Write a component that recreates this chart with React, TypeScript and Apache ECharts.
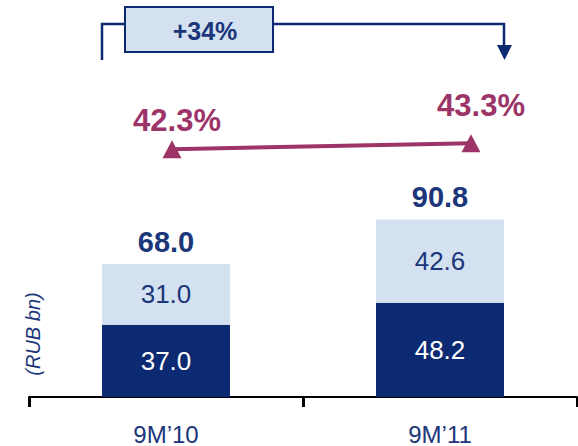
import React, { useEffect, useRef } from "react";
import * as echarts from "echarts";

const categories = ["9M’10", "9M’11"];
const darkValues = [37.0, 48.2];
const lightValues = [31.0, 42.6];
const totals = [68.0, 90.8];
const marginValues = [42.3, 43.3];
const growthLabel = "+34%";
const unitLabel = "(RUB bn)";

const NAVY = "#0c2a72";
const NAVY_TEXT = "#1b3679";
const LIGHT = "#d4e1f1";
const PURPLE = "#9c3468";
const FONT = "'Liberation Sans', Arial, sans-serif";

export default function App() {
  const ref = useRef<HTMLDivElement>(null);
  useEffect(() => {
    if (!ref.current) return;
    const chart = echarts.init(ref.current, undefined, { renderer: "svg" });
    chart.setOption({
      animation: false,
      backgroundColor: "#ffffff",
      textStyle: { fontFamily: FONT },
      grid: [
        { left: 29, right: 1, top: 6, bottom: 48 },
        { left: 172, right: 107, top: 103, bottom: 247 },
      ],
      xAxis: [
        {
          type: "category",
          gridIndex: 0,
          data: categories,
          boundaryGap: true,
          axisLine: { show: true, lineStyle: { color: "#000000", width: 2 } },
          axisTick: { show: true, length: 10, interval: 0, lineStyle: { color: "#000000", width: 3 } },
          axisLabel: { color: NAVY_TEXT, fontSize: 24, fontFamily: FONT, margin: 25 },
        },
        {
          type: "category",
          gridIndex: 1,
          data: categories,
          boundaryGap: false,
          show: false,
        },
      ],
      yAxis: [
        { type: "value", gridIndex: 0, min: 0, max: 200, show: false },
        { type: "value", gridIndex: 1, min: 34, max: 50, show: false },
      ],
      series: [
        {
          type: "bar",
          name: "dark",
          stack: "s",
          xAxisIndex: 0,
          yAxisIndex: 0,
          barWidth: 128,
          data: darkValues,
          itemStyle: { color: NAVY },
          label: {
            show: true,
            position: "inside",
            color: "#ffffff",
            fontSize: 26,
            fontFamily: FONT,
            formatter: (p: any) => Number(p.value).toFixed(1),
          },
        },
        {
          type: "bar",
          name: "light",
          stack: "s",
          xAxisIndex: 0,
          yAxisIndex: 0,
          barWidth: 128,
          data: lightValues,
          itemStyle: { color: LIGHT },
          label: {
            show: true,
            position: "inside",
            color: NAVY_TEXT,
            fontSize: 26,
            fontFamily: FONT,
            formatter: (p: any) => Number(p.value).toFixed(1),
          },
        },
        {
          type: "bar",
          name: "total",
          stack: "s",
          xAxisIndex: 0,
          yAxisIndex: 0,
          barWidth: 128,
          data: totals.map(() => 0),
          itemStyle: { color: "transparent" },
          label: {
            show: true,
            position: "top",
            distance: 8,
            color: NAVY_TEXT,
            fontSize: 29,
            fontWeight: "bold",
            fontFamily: FONT,
            formatter: (p: any) => totals[p.dataIndex].toFixed(1),
          },
        },
        {
          type: "line",
          name: "margin",
          xAxisIndex: 1,
          yAxisIndex: 1,
          data: [
            { value: marginValues[0], label: { offset: [5, -29] } },
            { value: marginValues[1], label: { offset: [10, -38] } },
          ],
          symbol: "triangle",
          symbolSize: [19, 18],
          lineStyle: { color: PURPLE, width: 4 },
          itemStyle: { color: PURPLE },
          label: {
            show: true,
            position: "inside",
            color: PURPLE,
            fontSize: 31,
            fontWeight: "bold",
            fontFamily: FONT,
            formatter: (p: any) => Number(p.value).toFixed(1) + "%",
          },
        },
      ],
      graphic: [
        {
          type: "polyline",
          shape: { points: [[102, 60], [102, 24], [504, 24], [504, 46]] },
          style: { stroke: NAVY, lineWidth: 2.5, fill: "none" },
          z: 10,
        },
        {
          type: "polygon",
          shape: { points: [[497, 45], [512, 45], [504.5, 60]] },
          style: { fill: NAVY },
          z: 10,
        },
        {
          type: "rect",
          shape: { x: 125, y: 7, width: 148, height: 45 },
          style: { fill: LIGHT, stroke: NAVY, lineWidth: 2 },
          z: 11,
        },
        {
          type: "text",
          x: 205,
          y: 31,
          style: {
            text: growthLabel,
            fill: NAVY_TEXT,
            font: `bold 25px ${FONT}`,
            textAlign: "center",
            textVerticalAlign: "middle",
          },
          z: 12,
        },
        {
          type: "text",
          x: 33,
          y: 334,
          rotation: Math.PI / 2,
          style: {
            text: unitLabel,
            fill: NAVY_TEXT,
            font: `italic 20px ${FONT}`,
            textAlign: "center",
            textVerticalAlign: "middle",
          },
          z: 12,
        },
      ],
    });
    return () => chart.dispose();
  }, []);
  return (
    <div
      ref={ref}
      style={{ position: "fixed", left: 0, top: 0, width: 578, height: 446 }}
    />
  );
}
